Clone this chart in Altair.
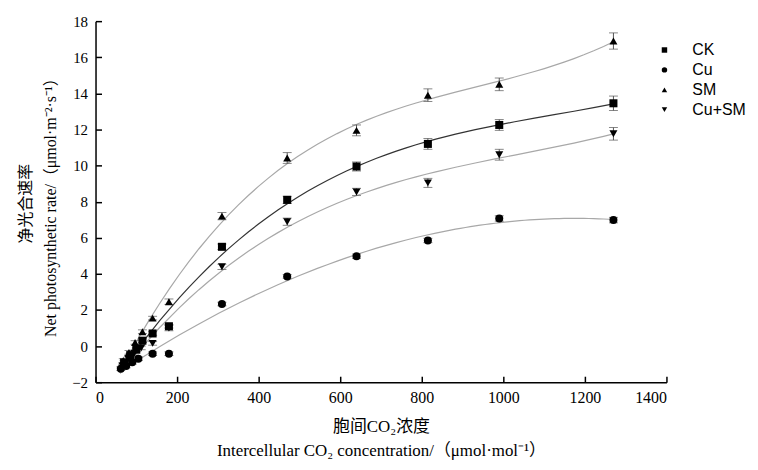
import altair as alt
import pandas as pd

series_names = ["CK", "Cu", "SM", "Cu+SM"]

ck_x = [70, 85, 100, 115, 140, 180, 310, 470, 640, 815, 990, 1270]
ck_y = [-0.9, -0.5, -0.2, 0.3, 0.7, 1.1, 5.5, 8.1, 9.95, 11.2, 12.25, 13.45]
ck_err = [0.1, 0.1, 0.1, 0.1, 0.1, 0.1, 0.15, 0.2, 0.25, 0.3, 0.3, 0.4]

cu_x = [62, 75, 90, 105, 140, 180, 310, 470, 640, 815, 990, 1270]
cu_y = [-1.25, -1.1, -0.9, -0.7, -0.42, -0.42, 2.33, 3.86, 4.98, 5.85, 7.07, 6.98]
cu_err = [0.1, 0.1, 0.1, 0.1, 0.1, 0.1, 0.1, 0.1, 0.12, 0.12, 0.15, 0.15]

sm_x = [68, 82, 97, 115, 140, 180, 310, 470, 640, 815, 990, 1270]
sm_y = [-0.8, -0.35, 0.2, 0.8, 1.55, 2.46, 7.2, 10.42, 11.95, 13.9, 14.5, 16.9]
sm_err = [0.1, 0.1, 0.1, 0.1, 0.1, 0.15, 0.2, 0.3, 0.3, 0.35, 0.35, 0.45]

cusm_x = [66, 80, 95, 112, 140, 180, 310, 470, 640, 815, 990, 1270]
cusm_y = [-1.1, -0.7, -0.4, -0.1, 0.15, 1.0, 4.39, 6.89, 8.54, 9.04, 10.6, 11.76]
cusm_err = [0.1, 0.1, 0.1, 0.1, 0.1, 0.15, 0.15, 0.2, 0.2, 0.25, 0.3, 0.35]

x_ticks = [0, 200, 400, 600, 800, 1000, 1200, 1400]
y_ticks = [-2, 0, 2, 4, 6, 8, 10, 12, 14, 16, 18]

rows = []
for name, xs, ys, es in [("CK", ck_x, ck_y, ck_err), ("Cu", cu_x, cu_y, cu_err),
                         ("SM", sm_x, sm_y, sm_err), ("Cu+SM", cusm_x, cusm_y, cusm_err)]:
    for xv, yv, ev in zip(xs, ys, es):
        rows.append({"series": name, "ci": xv, "pn": yv, "lo": yv - ev, "hi": yv + ev})
df = pd.DataFrame(rows)

serif = "Liberation Serif, Noto Sans CJK SC"

x_axis = alt.Axis(values=x_ticks, format="d", labelOverlap=False,
                  title=["胞间CO₂浓度", "Intercellular CO₂ concentration/（μmol·mol⁻¹）"],
                  titleY=50, titleBaseline="alphabetic", titleLineHeight=24,
                  titleFontSize=17, labelFontSize=16, labelFont="Liberation Serif",
                  titleFont=serif, titleFontWeight="normal",
                  tickSize=alt.ExprRef(expr="-6"), labelPadding=13)
y_axis = alt.Axis(values=y_ticks, format="d", labelOverlap=False,
                  title=["净光合速率", "Net photosynthetic rate/（μmol·m⁻²·s⁻¹）"],
                  titleX=-65, titleY=183, titleAngle=-90, titleAlign="center",
                  titleBaseline="alphabetic", titleLineHeight=25,
                  titleFontSize=16, labelFontSize=15, labelFont="Liberation Serif",
                  titleFont=serif, titleFontWeight="normal",
                  tickSize=alt.ExprRef(expr="-6"), labelPadding=14)
x_scale = alt.Scale(domain=[0, 1400], nice=False)
y_scale = alt.Scale(domain=[-2, 18], nice=False)

base = alt.Chart(df)

lines = base.transform_regression(
    "ci", "pn", method="poly", order=3, groupby=["series"], extent=[60, 1270]
).transform_calculate(
    dark="datum.series == 'CK' ? 'd' : 'l'"
).mark_line(strokeWidth=1.2).encode(
    x=alt.X("ci:Q", scale=x_scale, axis=x_axis),
    y=alt.Y("pn:Q", scale=y_scale, axis=y_axis),
    stroke=alt.Stroke("dark:N", scale=alt.Scale(domain=["d", "l"], range=["#333333", "#a8a8a8"]),
                      legend=None),
    detail="series:N",
)

err_rules = base.mark_rule(color="#555555", strokeWidth=1).encode(
    x=alt.X("ci:Q", scale=x_scale, axis=x_axis),
    y=alt.Y("lo:Q", scale=y_scale, axis=y_axis), y2="hi:Q"
)
cap_lo = base.mark_tick(orient="horizontal", color="#555555", size=9, thickness=1).encode(
    x=alt.X("ci:Q", scale=x_scale, axis=x_axis),
    y=alt.Y("lo:Q", scale=y_scale, axis=y_axis)
)
cap_hi = base.mark_tick(orient="horizontal", color="#555555", size=9, thickness=1).encode(
    x=alt.X("ci:Q", scale=x_scale, axis=x_axis),
    y=alt.Y("hi:Q", scale=y_scale, axis=y_axis)
)

points = base.mark_point(filled=True, opacity=1, color="black", size=65).encode(
    x=alt.X("ci:Q", scale=x_scale, axis=x_axis),
    y=alt.Y("pn:Q", scale=y_scale, axis=y_axis),
    shape=alt.Shape("series:N",
                    scale=alt.Scale(domain=series_names,
                                    range=["square", "circle", "triangle-up", "triangle-down"]),
                    legend=alt.Legend(title=None, orient="none", legendX=564, legendY=21,
                                      symbolSize=30, symbolFillColor="black",
                                      symbolStrokeColor="black", labelFontSize=16,
                                      labelFont="Liberation Sans", labelOffset=20,
                                      rowPadding=4, padding=0)),
)

chart = alt.layer(lines, err_rules, cap_lo, cap_hi, points).properties(
    width=574, height=363,
    background="white",
    autosize=alt.AutoSizeParams(type="none"),
    padding={"left": 88, "top": 12, "right": 84, "bottom": 78},
).resolve_legend(shape="independent", stroke="independent").configure_view(
    stroke=None
).configure_axis(
    grid=False, domainColor="black", domainWidth=1.5, tickColor="black", tickWidth=1.5,
    labelColor="black", titleColor="black", labelFont="Liberation Serif", titleFont=serif,
    titleFontWeight="normal", labelOverlap=False,
)

chart.save("out.html", embed_options={"renderer": "svg", "actions": False})
